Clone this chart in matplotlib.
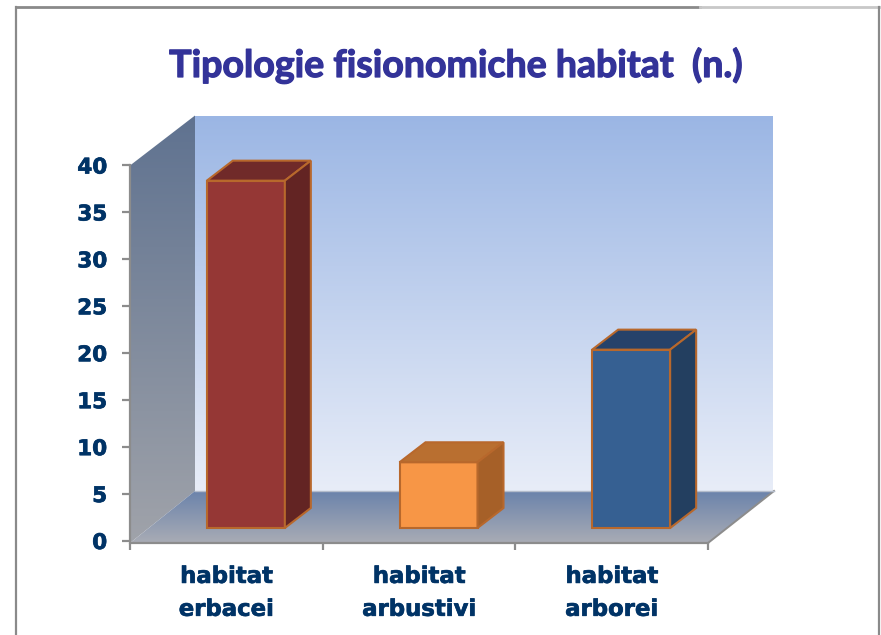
import numpy as np
import matplotlib
matplotlib.use("Agg")
import matplotlib.pyplot as plt
import matplotlib.patheffects as pe
from matplotlib.patches import Polygon
from matplotlib.colors import LinearSegmentedColormap as LSC

# ---- data ----
categories = ["habitat\nerbacei", "habitat\narbustivi", "habitat\narborei"]
values = [37, 7, 19]
y_ticks = [0, 5, 10, 15, 20, 25, 30, 35, 40]
title = "Tipologie fisionomiche habitat  (n.)"

# ---- styles ----
face_colors = ["#953735", "#F79646", "#366092"]
top_colors = ["#702A29", "#B96F30", "#26426A"]
side_colors = ["#632423", "#A66028", "#233F60"]
edge_color = "#B8682C"
W, H = 881, 635
X0, X1, Y0, Y40 = 130, 708, 541, 165.5
BACK_DX, BACK_DY = 65, 50

plt.rcParams["font.family"] = ["Lato", "DejaVu Sans"]
fig = plt.figure(figsize=(W / 100, H / 100), dpi=100, facecolor="white")

# ---- chart furniture in pixel coordinates ----
bg = fig.add_axes([0, 0, 1, 1], zorder=0)
bg.set_xlim(0, W); bg.set_ylim(H, 0); bg.axis("off")


def grad(poly, c_top, c_bot):
    xs, ys = zip(*poly)
    cm = LSC.from_list("g", [c_top, c_bot])
    im = bg.imshow(np.linspace(0, 1, 256)[:, None], cmap=cm, aspect="auto",
                   extent=(min(xs), max(xs), max(ys), min(ys)), zorder=1)
    p = Polygon(poly, transform=bg.transData, fc="none", ec="none")
    bg.add_patch(p)
    im.set_clip_path(p)


grad([(X0 + BACK_DX, Y40 - BACK_DY), (X1 + BACK_DX, Y40 - BACK_DY),
      (X1 + BACK_DX, Y0 - BACK_DY), (X0 + BACK_DX, Y0 - BACK_DY)], "#9BB6E4", "#E8EDF8")
grad([(X0, Y40), (X0 + BACK_DX, Y40 - BACK_DY), (X0 + BACK_DX, Y0 - BACK_DY), (X0, Y0 + 2)],
     "#5F7290", "#A0A3AA")
grad([(X0, Y0 + 2), (X1, Y0 + 2), (X1 + BACK_DX + 1, Y0 - BACK_DY), (X0 + BACK_DX, Y0 - BACK_DY)],
     "#6B83AB", "#A9ACB5")
bg.plot([X1, X1 + BACK_DX + 1], [Y0 + 2, Y0 - BACK_DY], color="#8C8C8C", lw=1.4, zorder=2)
bg.plot([X0 + BACK_DX, X1 + BACK_DX + 1], [Y0 - BACK_DY] * 2, color="#B4BCCB", lw=1, zorder=2)
# outer frame
bg.plot([16, 16], [H, 6.5], color="#8A8A8A", lw=1.6, zorder=2)
bg.plot([16, 700], [6.5, 6.5], color="#8A8A8A", lw=2, zorder=2)
bg.plot([700, 879], [6.5, 6.5], color="#C8C8C8", lw=2, zorder=2)
bg.plot([879, 879], [6.5, H], color="#8A8A8A", lw=1.6, zorder=2)

# ---- main axes: front plane of the 3D box ----
ax = fig.add_axes([X0 / W, 1 - Y0 / H, (X1 - X0) / W, (Y0 - Y40) / H], zorder=1)
ax.patch.set_alpha(0)
ax.set_xlim(0, 3); ax.set_ylim(0, 40)

px_x = 3 / (X1 - X0)
px_y = 40 / (Y0 - Y40)
bar_w = 78 * px_x
ox, oy = 19.5 * px_x, 13 * px_y
dx, dy = 26 * px_x, 20 * px_y

for i, v in enumerate(values):
    l = i + 0.5 - bar_w / 2 + ox
    r = l + bar_w
    ax.bar(l, v, width=bar_w, bottom=oy, align="edge", color=face_colors[i],
           edgecolor=edge_color, linewidth=1.5, zorder=3, clip_on=False)
    t = v + oy
    ax.add_patch(Polygon([(l, t), (r, t), (r + dx, t + dy), (l + dx, t + dy)],
                         fc=top_colors[i], ec=edge_color, lw=1.5, zorder=3, clip_on=False))
    ax.add_patch(Polygon([(r, oy), (r + dx, oy + dy), (r + dx, t + dy), (r, t)],
                         fc=side_colors[i], ec=edge_color, lw=1.5, zorder=3, clip_on=False))

for s in ("top", "right"):
    ax.spines[s].set_visible(False)
for s in ("left", "bottom"):
    ax.spines[s].set_color("#8C8C8C")
    ax.spines[s].set_linewidth(1.6)
ax.spines["bottom"].set_position(("outward", 1.4))

ax.set_yticks(y_ticks)
ylabels = ax.set_yticklabels([str(t) for t in y_ticks], fontsize=15.5, fontweight="bold",
                             color="#003366", family=["DejaVu Sans"])
ax.tick_params(axis="y", length=6, width=1.6, color="#8C8C8C", pad=10.5)
ax.set_xticks([0, 1, 2, 3])
ax.set_xticklabels([])
ax.tick_params(axis="x", which="major", length=5, width=1.6, color="#8C8C8C")
ax.set_xticks([0.5, 1.5, 2.5], minor=True)
xlabels = ax.set_xticklabels(categories, minor=True, fontsize=16.4, fontweight="bold",
                             color="#003366", linespacing=1.55, family=["DejaVu Sans"])
ax.tick_params(axis="x", which="minor", length=0, pad=15.8)
for lab in list(xlabels) + list(ylabels):
    lab.set_path_effects([pe.withStroke(linewidth=0.5, foreground="#003366")])

fig.text(455 / W, 1 - 77 / H, title, ha="center", va="baseline", fontsize=27,
         fontweight="bold", color="#333399",
         path_effects=[pe.withStroke(linewidth=0.9, foreground="#333399")])

fig.savefig("out.png", dpi=100)
